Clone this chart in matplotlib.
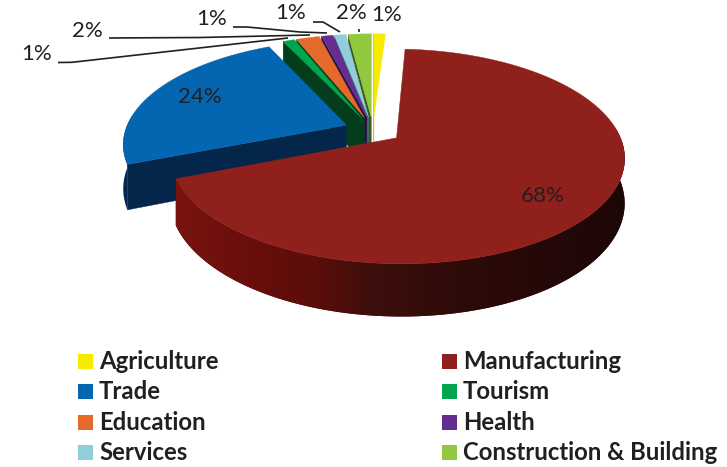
import numpy as np
import matplotlib
matplotlib.use("Agg")
import matplotlib.pyplot as plt
from matplotlib.patches import Polygon, Rectangle
from matplotlib.colors import LinearSegmentedColormap

categories = ["Agriculture", "Manufacturing", "Trade", "Tourism", "Education", "Health", "Services", "Construction & Building"]
values = [1, 68, 24, 1, 2, 1, 1, 2]
labels = ["1%", "68%", "24%", "1%", "2%", "1%", "1%", "2%"]
colors = ["#f7ec00", "#8f201c", "#0465b1", "#00a64f", "#e4692a", "#662d91", "#92cddc", "#92c83e"]
side_colors = ["#b0a800", "#5a100e", "#03264a", "#043d1c", "#043d1c", "#2a1040", "#3a6a78", "#3e5a18"]

fig = plt.figure(figsize=(7.27, 4.67), dpi=100)
ax = fig.add_axes([0, 0, 1, 1])
ax.set_xlim(0, 727)
ax.set_ylim(467, 0)
ax.axis("off")

CX, CY = 373.0, 130.0
RX, RY = 221.0, 101.5
K = 0.1706
EXPLODE = 0.13
DEPTH = 43.0


def project(u, v, drop=0.0):
    w = 1 + K * v
    return CX + RX * u / w, CY - RY * v / w + drop / w


fractions = np.array(values) / sum(values)
ends = np.cumsum(fractions) * 2 * np.pi
starts = ends - fractions * 2 * np.pi

wall_cmap = LinearSegmentedColormap.from_list(
    "wall", [(0.0, "#7a1410"), (0.16, "#6a0f0c"), (0.32, "#5a0d0a"), (0.43, "#3f0f0c"),
             (0.62, "#2e0b09"), (1.0, "#1c0706")])


def geometry(i):
    mid = (starts[i] + ends[i]) / 2
    ou, ov = EXPLODE * np.sin(mid), EXPLODE * np.cos(mid)
    t = np.linspace(starts[i], ends[i], max(8, int(values[i] * 6)))
    return ou, ov, t


# draw back to front: small wedges by position, then Trade, then Manufacturing
order = [0, 7, 6, 5, 4, 3, 2, 1]
z = 2
for i in order:
    ou, ov, t = geometry(i)
    # radial face on the counter-clockwise side
    if i != 1:
        pts = [project(ou, ov), project(ou + np.sin(starts[i]), ov + np.cos(starts[i])),
               project(ou + np.sin(starts[i]), ov + np.cos(starts[i]), DEPTH), project(ou, ov, DEPTH)]
        ax.add_patch(Polygon(pts, closed=True, fc=side_colors[i], ec=side_colors[i], lw=0.3, zorder=z))
        z += 1
    # outer wall
    front = t[np.cos(t) <= 0.1]
    if len(front) > 1:
        upper = [project(ou + np.sin(a), ov + np.cos(a)) for a in front]
        lower = [project(ou + np.sin(a), ov + np.cos(a), DEPTH) for a in front[::-1]]
        wall = Polygon(upper + lower, closed=True, fc=side_colors[i], ec="none", zorder=z)
        ax.add_patch(wall)
        if i == 1:
            grad = np.linspace(0, 1, 256).reshape(1, -1)
            im = ax.imshow(grad, cmap=wall_cmap, extent=(170, 630, 330, 140), aspect="auto",
                           zorder=z + 0.5, interpolation="bilinear")
            im.set_clip_path(wall)
    z += 1
    # top face
    pts = [project(ou, ov)] + [project(ou + np.sin(a), ov + np.cos(a)) for a in t]
    ax.add_patch(Polygon(pts, closed=True, fc=colors[i], ec=colors[i], lw=0.3, zorder=z))
    z += 1
ax.set_xlim(0, 727)
ax.set_ylim(467, 0)

TEXT = "#231f20"
FONT = "Lato"
label_pos = [(387, 15), (543, 196), (200, 97), (37, 54), (87, 31), (212, 19), (291, 13), (351, 13)]
for s, (x, y) in zip(labels, label_pos):
    ax.text(x, y, s, fontsize=16, family=FONT, color=TEXT, ha="center", va="center", zorder=50)

leaders = [
    [(58, 62.5), (72, 62.3), (288, 38)],
    [(109, 38), (200, 37.5), (310, 35)],
    [(233, 27), (247, 27), (300, 32), (327, 33)],
    [(313, 22), (323, 22), (340, 32)],
    [(359, 29), (359, 32)],
]
for line in leaders:
    xs, ys = zip(*line)
    ax.plot(xs, ys, color="#231f20", lw=1.2, zorder=40, solid_capstyle="butt")

row_y = [361.5, 391.5, 422.5, 452.5]
col_x = [78, 442]
for i, (name, c) in enumerate(zip(categories, colors)):
    x = col_x[i % 2]
    y = row_y[i // 2]
    ax.add_patch(Rectangle((x, y - 7.5), 15, 15, fc=c, ec="none", zorder=30))
    ax.text(x + 21, y, name, fontsize=17.2, family=FONT, weight="bold", color=TEXT, ha="left", va="center", zorder=50)

fig.savefig("out.png", dpi=100)
